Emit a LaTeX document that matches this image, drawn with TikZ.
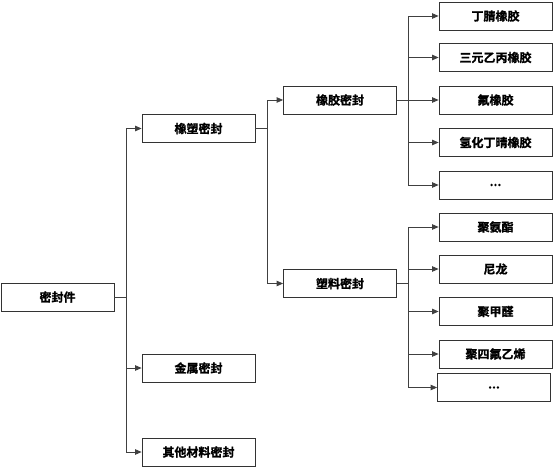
\documentclass[tikz,border=0pt]{standalone}
\usepackage{fontspec}
\setmainfont{Noto Sans CJK SC Bold}[FakeBold=1.2]
\usetikzlibrary{arrows.meta}

\tikzset{
  box/.style={draw=black!80, line width=0.8pt, minimum width=113pt, minimum height=28pt,
    inner sep=0pt, font=\fontsize{12}{14}\selectfont},
  link/.style={draw=black!75, line width=0.8pt},
}

\begin{document}
\begin{tikzpicture}[x=1pt, y=-1pt, >={Triangle[length=6.5pt,width=5.5pt]}]
\useasboundingbox (0,0) rectangle (554,468);

% Root and the first level
\node[box] (seal) at (57.5,297) {密封件};
\node[box] (rubplas) at (198.5,128.5) {橡塑密封};
\node[box] (metal) at (198.5,368) {金属密封};
\node[box] (other) at (198.5,452) {其他材料密封};

% Second level under the rubber and plastic seals
\node[box] (rubber) at (340,100) {橡胶密封};
\node[box] (plastic) at (340,283.5) {塑料密封};

% Kinds of rubber
\node[box] (nbr) at (495.5,16) {丁腈橡胶};
\node[box] (epdm) at (495.5,57.5) {三元乙丙橡胶};
\node[box] (fkm) at (495.5,100) {氟橡胶};
\node[box] (hnbr) at (495.5,142.5) {氢化丁晴橡胶};
\node[box] (rubmore) at (495.5,185) {...};

% Kinds of plastic
\node[box] (pu) at (495.5,227) {聚氨酯};
\node[box] (pa) at (495.5,269) {尼龙};
\node[box] (pom) at (495.5,311.5) {聚甲醛};
\node[box] (ptfe) at (495.5,354) {聚四氟乙烯};
\node[box] (plasmore) at (494,387.5) {...};

% Fork points of the tree
\coordinate (sealfork) at (126,297);
\coordinate (rubplasfork) at (267,128.5);
\coordinate (rubberfork) at (408,100);
\coordinate (plasticfork) at (408,283.5);

% Connectors from the root
\draw[link] (seal.east) -- (sealfork);
\draw[link,->] (sealfork) |- (rubplas.west);
\draw[link,->] (sealfork) |- (metal.west);
\draw[link,->] (sealfork) |- (other.west);

% Connectors from the rubber and plastic seals
\draw[link] (rubplas.east) -- (rubplasfork);
\draw[link,->] (rubplasfork) |- (rubber.west);
\draw[link,->] (rubplasfork) |- (plastic.west);

% Connectors to the kinds of rubber
\draw[link] (rubber.east) -- (rubberfork);
\draw[link,->] (rubberfork) |- (nbr.west);
\draw[link,->] (rubberfork) |- (epdm.west);
\draw[link,->] (rubberfork) |- (fkm.west);
\draw[link,->] (rubberfork) |- (hnbr.west);
\draw[link,->] (rubberfork) |- (rubmore.west);

% Connectors to the kinds of plastic
\draw[link] (plastic.east) -- (plasticfork);
\draw[link,->] (plasticfork) |- (pu.west);
\draw[link,->] (plasticfork) |- (pa.west);
\draw[link,->] (plasticfork) |- (pom.west);
\draw[link,->] (plasticfork) |- (ptfe.west);
\draw[link,->] (plasticfork) |- (plasmore.west);

\end{tikzpicture}
\end{document}
